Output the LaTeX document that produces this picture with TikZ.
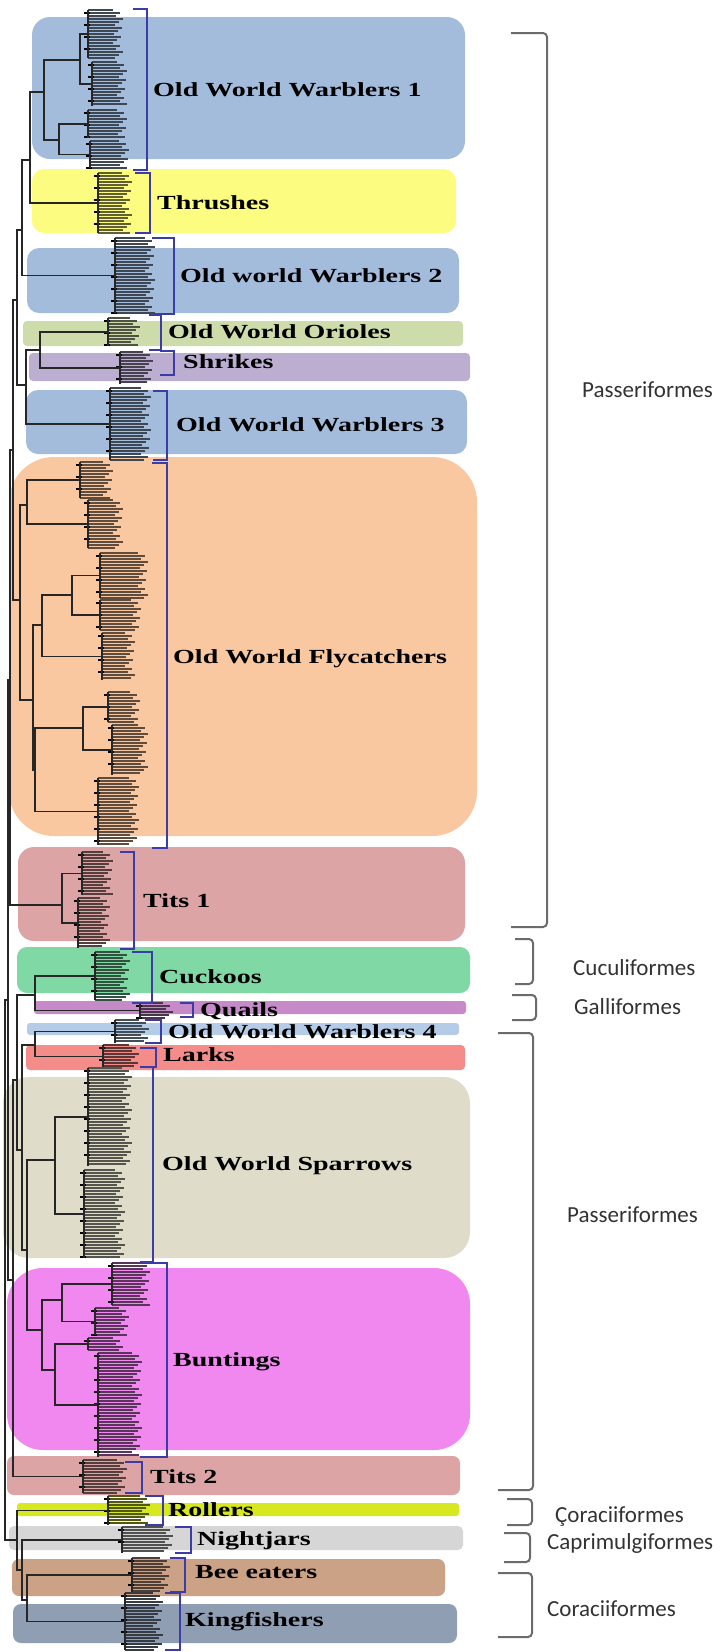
\documentclass[tikz,border=0pt]{standalone}
\usepackage{fontspec}
\setmainfont{Carlito}
\newfontfamily\cladefont{Liberation Serif}
\usepackage{graphicx}

\definecolor{owwblue}{HTML}{A4BCDC}
\definecolor{thrush}{HTML}{FCFC80}
\definecolor{oriole}{HTML}{CDDCAA}
\definecolor{shrike}{HTML}{BCAED0}
\definecolor{flycatch}{HTML}{F9C8A0}
\definecolor{tits}{HTML}{DCA4A4}
\definecolor{cuckoo}{HTML}{80D8A4}
\definecolor{quail}{HTML}{C68AC8}
\definecolor{oww4}{HTML}{B4CCE8}
\definecolor{lark}{HTML}{F48C8A}
\definecolor{sparrow}{HTML}{E0DCCA}
\definecolor{bunting}{HTML}{F088F0}
\definecolor{roller}{HTML}{D8E820}
\definecolor{nightjar}{HTML}{D6D6D6}
\definecolor{beeeater}{HTML}{CCA286}
\definecolor{kingfish}{HTML}{909EB4}
\definecolor{brkblue}{HTML}{3C3CA6}

\tikzset{
  leaf/.style={line width=1.5pt},
  branch/.style={draw=black!85,line width=1.2pt},
  bsmark/.style={draw=black,line width=1.6pt},
  cladebrk/.style={draw=brkblue,line width=1.4pt},
  orderbrk/.style={draw=black!58,line width=2pt,rounded corners=4pt},
  cladelbl/.style={anchor=west,inner sep=0pt,text height=13pt,text depth=0pt,
    font=\cladefont\bfseries\fontsize{20}{24}\selectfont},
  orderlbl/.style={anchor=west,inner sep=0pt,text height=15pt,text depth=0pt,
    font=\fontsize{23}{27}\selectfont,text=black!80},
}

% one tip group: name, top y, bottom y, comb x, tip x, colour
\newcommand{\leafset}[6]{%
  \pgfmathtruncatemacro{\nlf}{(#3-#2)/3}%
  \foreach \k in {0,...,\nlf}{%
    \pgfmathsetmacro{\yy}{#2+3*\k}%
    \pgfmathsetmacro{\xx}{#5+mod(\k*7,11)-5}%
    \draw[leaf,draw=black!62!#6] (#4,\yy) -- (\xx,\yy);
    \pgfmathtruncatemacro{\mk}{mod(\k,4)}%
    \ifnum\mk=1 \draw[bsmark] (#4-4,\yy) -- (#4+2,\yy);\fi
  }%
  \draw[branch] (#4,#2) -- (#4,#3);
  \coordinate (#1) at (#4,{(#2+#3)/2});
}

\begin{document}
\begin{tikzpicture}[x=1pt,y=-1pt]
\useasboundingbox (0,0) rectangle (720,1652);
\fill[white] (0,0) rectangle (720,1652);

% coloured clade bands
\foreach \x/\y/\X/\Y/\col/\r in {32/17/465/159/owwblue/18, 32/169/456/233/thrush/12,
  27/248/459/313/owwblue/12, 23/321/463/346/oriole/4, 29/353/470/381/shrike/4,
  26/390/467/454/owwblue/12, 9/457/477/836/flycatch/45, 18/847/465/941/tits/16,
  17/947/470/993/cuckoo/10, 34/1001/466/1014/quail/3, 27/1023/459/1035/oww4/3,
  26/1045/465/1070/lark/4, 3/1077/470/1258/sparrow/26, 7/1268/470/1450/bunting/36,
  7/1456/460/1495/tits/7, 17/1503/459/1516/roller/3, 9/1526/463/1550/nightjar/5,
  12/1559/445/1596/beeeater/7, 13/1604/457/1643/kingfish/8}
  \fill[\col,rounded corners=\r pt] (\x,\y) rectangle (\X,\Y);

% order brackets
\foreach \xl/\x/\y/\Y in {511/547/33/927, 515/533/939/984, 512/536/995/1020,
  498/533/1033/1490, 507/532/1499/1525, 504/530/1533/1562, 498/532/1573/1637}
  \draw[orderbrk] (\xl,\y) -| (\x,\Y) -- (\xl,\Y);

% tips
\foreach \nm/\ya/\yb/\xc/\xe/\col in {a1/10/58/88/118/owwblue, a2/62/106/92/122/owwblue,
  a3/110/138/88/122/owwblue, a4/141/168/90/124/owwblue, thr/173/233/98/127/thrush,
  ow2/238/313/115/150/owwblue, ori/318/346/108/135/oriole, shr/352/384/120/148/shrike,
  ow3/388/460/110/146/owwblue, f1/462/498/80/108/flycatch, f2/500/548/88/118/flycatch,
  f3/553/598/100/143/flycatch, f4/600/630/100/136/flycatch, f5/633/680/102/130/flycatch,
  f6/692/722/108/135/flycatch, f7/725/775/112/143/flycatch, f8/778/845/98/134/flycatch,
  t1/852/895/82/108/tits, t2/898/948/78/105/tits, cuc/952/1000/95/125/cuckoo,
  qua/1003/1018/140/168/quail, ow4/1020/1043/115/144/oww4, lar/1045/1068/103/134/lark,
  s1/1068/1166/88/127/sparrow, s2/1170/1258/84/120/sparrow, b1/1263/1305/112/145/bunting,
  b2/1308/1335/95/124/bunting, b3/1338/1350/88/118/bunting, b4/1353/1457/98/137/bunting,
  ti2/1460/1493/83/122/tits, rol/1496/1525/108/145/roller, nig/1527/1553/122/168/nightjar,
  bee/1558/1592/132/165/beeeater, kin/1593/1650/125/158/kingfish}
  {\leafset{\nm}{\ya}{\yb}{\xc}{\xe}{\col}}

% inner nodes of the tree
\foreach \n/\x/\y in {p1/80/60, p2/59/140, owwA/44/92, nOT/30/160, nOTW/22/230,
  nOS/40/350, nOS3/26/385, nUp/17/300, q12/27/505, q34/72/595, q345/42/625,
  q67/83/728, q678/35/770, q38/33/700, fcR/20/600, nUF/13/450, tR/62/905,
  nP1/10/680, nCQ/35/995, nWL/35/1045, sR/55/1160, bb12/62/1300, bb34/55/1370,
  bR/42/1330, nSB/27/1250, nWLSB/22/1150, nCQW/17/1080, nT2/13/1280, nMid/8/1000,
  nBK/27/1600, nNBK/22/1570, nRN/17/1540, root/5/1270}
  \coordinate (\n) at (\x,\y);

\foreach \ca/\n/\cb in {a1/p1/a2, a3/p2/a4, p1/owwA/p2, owwA/nOT/thr, nOT/nOTW/ow2,
  ori/nOS/shr, nOS/nOS3/ow3, nOTW/nUp/nOS3, f1/q12/f2, f3/q34/f4, q34/q345/f5,
  f6/q67/f7, q67/q678/f8, q345/q38/q678, q12/fcR/q38, nUp/nUF/fcR, t1/tR/t2,
  nUF/nP1/tR, cuc/nCQ/qua, ow4/nWL/lar, s1/sR/s2, b1/bb12/b2, b3/bb34/b4,
  bb12/bR/bb34, sR/nSB/bR, nWL/nWLSB/nSB, nCQ/nCQW/nWLSB, nCQW/nT2/ti2,
  nP1/nMid/nT2, bee/nBK/kin, nig/nNBK/nBK, rol/nRN/nNBK, nMid/root/nRN}
  \draw[branch] (\ca) -| (\n) |- (\cb);

% clade brackets
\foreach \x/\y/\Y/\w in {147/9/170/14, 150/173/233/15, 174/238/314/22, 161/315/350/12,
  174/351/375/14, 167/391/460/14, 167/463/848/15, 134/852/949/14, 152/952/1003/20,
  193/1003/1017/13, 161/1020/1043/16, 156/1048/1067/16, 153/1067/1262/13,
  167/1263/1457/27, 142/1462/1493/17, 163/1496/1525/18, 191/1527/1553/16,
  185/1558/1592/15, 180/1593/1650/15}
  \draw[cladebrk] (\x-\w,\y) -| (\x,\Y) -- (\x-\w,\Y);

% clade names
\foreach \x/\y/\txt [count=\i] in {153/90/Old World Warblers 1, 157/203/Thrushes,
  180/276/Old world Warblers 2, 168/332/Old World Orioles, 183/362/Shrikes,
  176/425/Old World Warblers 3, 173/657/Old World Flycatchers, 143/901/Tits 1,
  159/977/Cuckoos, 200/1010/Quails, 168/1032/Old World Warblers 4, 163/1055/Larks,
  162/1164/Old World Sparrows, 173/1360/Buntings, 150/1477/Tits 2, 168/1510/Rollers,
  197/1539/Nightjars, 195/1572/Bee eaters, 185/1620/Kingfishers}
  \node[cladelbl] (clade\i) at (\x,\y) {\scalebox{1.4}[1]{\txt}};

% order names
\foreach \x/\y/\txt [count=\i] in {582/390/Passeriformes, 573/968/Cuculiformes,
  574/1007/Galliformes, 567/1215/Passeriformes, 555/1515/Çoraciiformes,
  547/1542/Caprimulgiformes, 547/1609/Coraciiformes}
  \node[orderlbl] (order\i) at (\x,\y) {\txt};
\end{tikzpicture}
\end{document}
